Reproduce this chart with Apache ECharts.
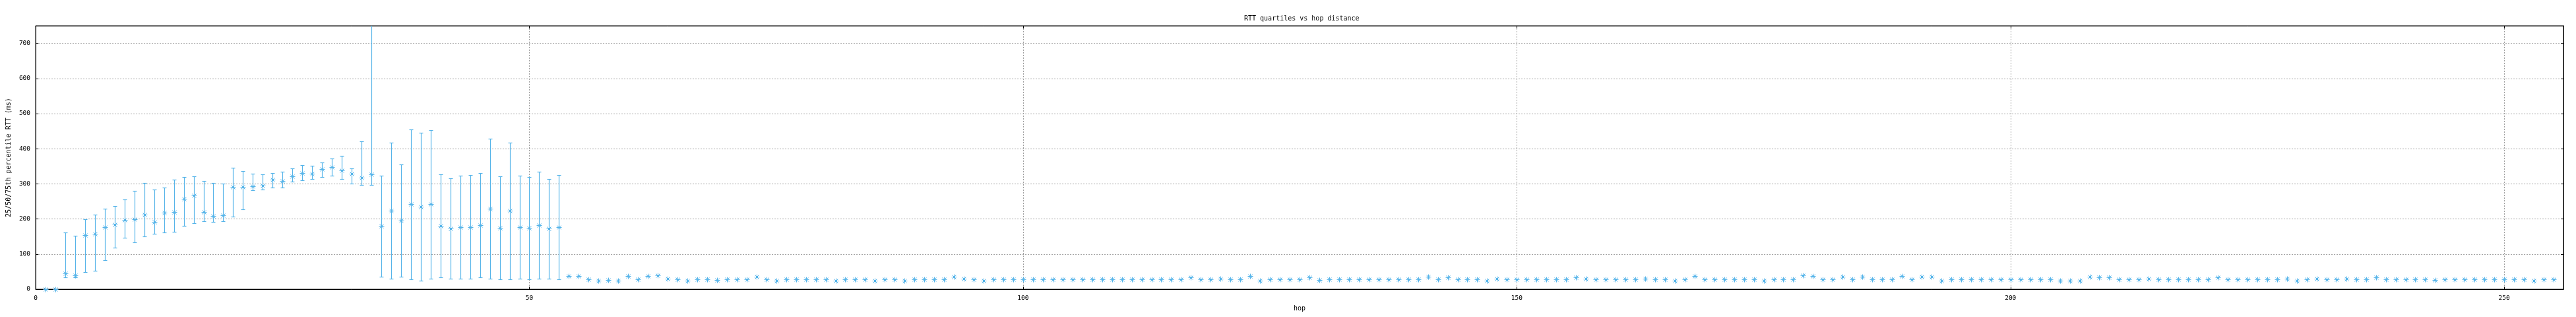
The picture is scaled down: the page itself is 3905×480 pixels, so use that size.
<!DOCTYPE html>
<html>
<head>
<meta charset="utf-8">
<script src="https://cdn.jsdelivr.net/npm/echarts@6/dist/echarts.min.js"></script>
<style>
html,body{margin:0;padding:0;background:#fff;}
#chart{width:3905px;height:480px;}
</style>
</head>
<body>
<div id="chart"></div>
<script>
// ---- data ----
const titleText = 'RTT quartiles vs hop distance';
const xName = 'hop';
const yName = '25/50/75th percentile RTT (ms)';
const firstHop = 1; // median[i] belongs to hop firstHop + i

// median RTT per hop (hops 1..255)
const median = [
  0, 0, 45, 39, 154, 158, 177, 184, 197, 199,
  213, 192, 218, 220, 258, 266, 220, 209, 211, 291,
  291, 293, 295, 312, 308, 321, 331, 329, 342, 348,
  338, 329, 318, 327, 180, 224, 195, 242, 235, 242,
  180, 173, 177, 177, 182, 229, 175, 224, 177, 175,
  182, 173, 177,
  37, 37, 29, 24, 26, 24, 37, 29, 37, 39, 31, 28, 24, 29, 29, 26, 28, 29, 28, 35, 28, 24,
  28, 28, 29, 28, 29, 24, 28, 29, 29, 24, 29, 29, 24, 29, 28, 28, 28, 35, 31, 29, 24, 29,
  29, 29, 28, 28, 29, 29, 28, 29, 28, 28, 29, 28, 28, 28, 28, 28, 29, 28, 28, 33, 29, 28,
  31, 28, 28, 37, 24, 28, 28, 29, 28, 33, 26, 29, 28, 29, 28, 29, 29, 28, 28, 28, 28, 35,
  28, 33, 28, 29, 28, 24, 31, 29, 29, 28, 28, 29, 28, 28, 33, 31, 29, 28, 28, 29, 29, 31,
  29, 29, 24, 29, 37, 29, 28, 28, 29, 29, 29, 24, 29, 29, 28, 39, 37, 28, 29, 35, 28, 35,
  29, 29, 28, 37, 28, 35, 35, 24, 29, 28, 29, 29, 28, 29, 29, 29, 29, 29, 29, 24, 24, 24,
  35, 33, 33, 28, 28, 29, 31, 29, 28, 29, 29, 28, 29, 33, 29, 29, 28, 28, 29, 29, 31, 24, 29,
  31, 29, 29, 31, 29, 28, 34, 29, 28, 29, 28, 29, 26, 29, 28, 28, 28, 28, 28, 29, 28, 28, 24, 29, 29
];
// 25th percentile per hop (hops 1..53), null = no bar
const q1 = [
  null, null, 33, 33, 48, 53, 83, 119, 147, 133,
  150, 158, 162, 164, 180, 188, 194, 192, 194, 207,
  227, 282, 284, 289, 289, 306, 310, 314, 320, 323,
  314, 301, 297, 297, 36, 30, 36, 28, 24, 30,
  34, 30, 30, 30, 34, 30, 28, 28, 30, 28,
  30, 30, 28
];
// 75th percentile per hop (hops 1..53); hop 34 runs off the top of the plot
const q3 = [
  null, null, 162, 152, 200, 212, 229, 237, 256, 280,
  303, 284, 289, 312, 320, 321, 308, 303, 301, 346,
  336, 329, 327, 331, 335, 344, 353, 351, 361, 372,
  380, 344, 421, 800, 323, 417, 355, 455, 445, 453,
  327, 316, 323, 325, 331, 429, 321, 417, 323, 320,
  335, 314, 325
];
const xTicks = [0, 50, 100, 150, 200, 250];
const yTicks = [0, 100, 200, 300, 400, 500, 600, 700];

// ---- build series data ----
const barData = [];
q1.forEach((lo, i) => {
  if (lo !== null && q3[i] !== null) barData.push([firstHop + i, lo, q3[i]]);
});
const pointData = median.map((m, i) => [firstHop + i, m]);

const COLOR = '#56b4e9';
const FONT = 'DejaVu Sans Mono';

function renderBar(params, api) {
  const x = api.value(0), lo = api.value(1), hi = api.value(2);
  const pLo = api.coord([x, lo]);
  const pHi = api.coord([x, hi]);
  const cs = params.coordSys;
  const cx = Math.round(pLo[0]) + 0.5;
  const yLo = Math.round(pLo[1]) + 0.5;
  let yHi = Math.round(pHi[1]) + 0.5;
  let topCap = true;
  if (yHi < cs.y) { yHi = cs.y; topCap = false; }
  const style = { stroke: COLOR, lineWidth: 1.2 };
  const children = [
    { type: 'line', shape: { x1: cx, y1: yLo, x2: cx, y2: yHi }, style },
    { type: 'line', shape: { x1: cx - 3, y1: yLo, x2: cx + 3, y2: yLo }, style }
  ];
  if (topCap) children.push({ type: 'line', shape: { x1: cx - 3, y1: yHi, x2: cx + 3, y2: yHi }, style });
  return { type: 'group', children };
}

function renderStar(params, api) {
  const p = api.coord([api.value(0), api.value(1)]);
  const cx = Math.round(p[0]) + 0.5, cy = Math.round(p[1]) + 0.5;
  const r = 4, d = 3;
  const style = { stroke: COLOR, lineWidth: 1 };
  return {
    type: 'group',
    children: [
      { type: 'line', shape: { x1: cx - r, y1: cy, x2: cx + r, y2: cy }, style },
      { type: 'line', shape: { x1: cx, y1: cy - r, x2: cx, y2: cy + r }, style },
      { type: 'line', shape: { x1: cx - d, y1: cy - d, x2: cx + d, y2: cy + d }, style },
      { type: 'line', shape: { x1: cx - d, y1: cy + d, x2: cx + d, y2: cy - d }, style },
      { type: 'circle', shape: { cx: cx, cy: cy, r: 1.6 }, style: { fill: COLOR } }
    ]
  };
}

const gridLine = { show: true, lineStyle: { color: '#a0a0a0', type: [2, 2], width: 1 } };
const onlyTicks = (ticks) => (v) => (ticks.indexOf(v) >= 0 ? String(v) : '');

const chart = echarts.init(document.getElementById('chart'), null, { renderer: 'canvas' });
chart.setOption({
  animation: false,
  backgroundColor: '#fff',
  title: {
    text: titleText,
    left: 1881,
    top: 18,
    textStyle: { fontFamily: FONT, fontSize: 10, fontWeight: 'normal', color: '#000' }
  },
  grid: { left: 52, right: 19, top: 39, bottom: 42, show: true, borderColor: '#000', borderWidth: 1, backgroundColor: 'transparent' },
  xAxis: [
    {
      type: 'value', min: 0, max: 256, interval: 50,
      name: xName, nameLocation: 'middle', nameGap: 24,
      nameTextStyle: { fontFamily: FONT, fontSize: 10, color: '#000' },
      axisLine: { show: true, onZero: false, lineStyle: { color: '#000', width: 1 } },
      axisTick: { show: true, inside: true, length: 4, lineStyle: { color: '#000' } },
      axisLabel: { fontFamily: FONT, fontSize: 9.5, color: '#000', margin: 9, formatter: onlyTicks(xTicks) },
      splitLine: gridLine
    },
    {
      type: 'value', min: 0, max: 256, interval: 50, position: 'top',
      axisLine: { show: true, onZero: false, lineStyle: { color: '#000', width: 1 } },
      axisTick: { show: true, inside: true, length: 4, lineStyle: { color: '#000' } },
      axisLabel: { show: false }, splitLine: { show: false }
    }
  ],
  yAxis: [
    {
      type: 'value', min: 0, max: 750, interval: 100,
      name: yName, nameLocation: 'middle', nameGap: 36, nameRotate: 90,
      nameTextStyle: { fontFamily: FONT, fontSize: 10, color: '#000' },
      axisLine: { show: true, onZero: false, lineStyle: { color: '#000', width: 1 } },
      axisTick: { show: true, inside: true, length: 4, lineStyle: { color: '#000' } },
      axisLabel: { fontFamily: FONT, fontSize: 9.5, color: '#000', margin: 8, formatter: onlyTicks(yTicks) },
      splitLine: gridLine
    },
    {
      type: 'value', min: 0, max: 750, interval: 100, position: 'right',
      axisLine: { show: true, onZero: false, lineStyle: { color: '#000', width: 1 } },
      axisTick: { show: true, inside: true, length: 4, lineStyle: { color: '#000' } },
      axisLabel: { show: false }, splitLine: { show: false }
    }
  ],
  series: [
    { type: 'custom', name: 'iqr', xAxisIndex: 0, yAxisIndex: 0, renderItem: renderBar, data: barData, z: 3 },
    { type: 'custom', name: 'median', xAxisIndex: 0, yAxisIndex: 0, renderItem: renderStar, data: pointData, z: 4 }
  ]
});
</script>
</body>
</html>
